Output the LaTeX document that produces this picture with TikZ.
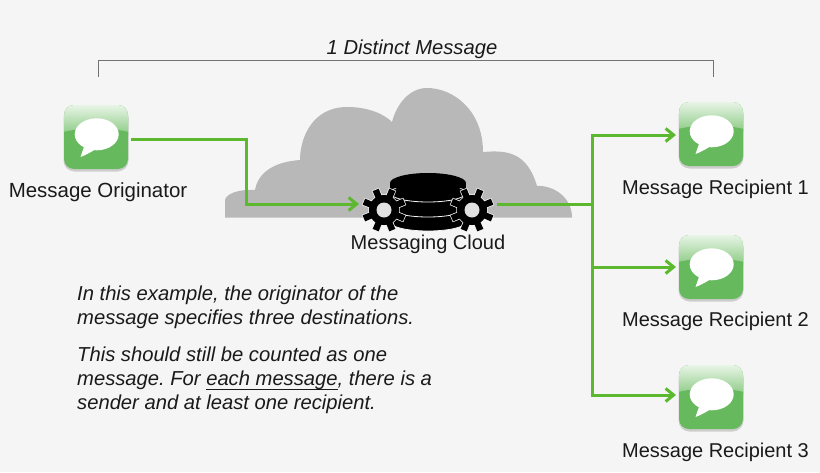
\documentclass[tikz,border=0pt]{standalone}
\usepackage{fontspec}
\setmainfont{Liberation Sans}
\usetikzlibrary{arrows.meta,calc}
\definecolor{bgc}{HTML}{F5F5F5}
\definecolor{flowc}{HTML}{5CB82E}
\definecolor{iconc}{HTML}{66B95C}
\definecolor{cloudc}{HTML}{B8B8B8}
\definecolor{textc}{HTML}{1A1A1A}
\tikzset{
  flow/.style={draw=flowc,line width=3pt,line join=miter},
  flowtip/.style={flow,-{Straight Barb[length=8pt,width=13pt,line width=3pt]}},
  iconbox/.style={draw=none,fill=iconc,rounded corners=10pt,minimum width=64pt,minimum height=64pt,inner sep=0pt,outer sep=3pt},
  lab/.style={font=\fontsize{20}{24}\selectfont,text=textc,inner sep=0pt},
  note/.style={font=\itshape\frenchspacing\fontsize{20.2}{24}\selectfont,text=textc,inner sep=0pt,align=left,anchor=north west},
  bracket/.style={draw=black!55,line width=1pt},
  hub/.style={draw=none,minimum width=138pt,minimum height=58pt,inner sep=0pt,outer sep=0pt},
  disk/.style={fill=black,draw=bgc,line width=0.8pt},
}
\newcommand{\msgicon}[2]{%
  \fill[black,opacity=0.16,rounded corners=11pt] ($(#2)+(-32.5,-30)$) rectangle ($(#2)+(32.5,34.5)$);
  \node[iconbox] (#1) at (#2) {};
  \begin{scope}[shift={(#2)}]
    \begin{scope}
      \clip[rounded corners=10pt] (-32,-32) rectangle (32,32);
      \shade[top color=white!85!iconc,bottom color=white!30!iconc]
        (-32,-32) rectangle (32,-5);
      \fill[iconc] (-33,-5) .. controls (-10,-10) and (10,-10) .. (33,-5) -- (33,-2) -- (-33,-2) -- cycle;
    \end{scope}
    \fill[white] (0.7,-2.7) ellipse [x radius=22,y radius=16];
    \fill[white] (-11,7) -- (-15.5,20) .. controls (-10,18) and (-5,15) .. (0,12) -- cycle;
  \end{scope}}
\newcommand{\gearshape}[2]{%
  \begin{scope}[shift={(#1,#2)}]
    \foreach \a in {22.5,67.5,...,337.5}{
      \filldraw[draw=bgc,line width=1.4pt] (\a-13:14.5) -- (\a-8.5:22) -- (\a+8.5:22) -- (\a+13:14.5) -- cycle;
    }
    \filldraw[draw=bgc,line width=1.4pt] (0,0) circle (15);
    \foreach \a in {22.5,67.5,...,337.5}{
      \fill[black] (\a-13:14) -- (\a-8.5:22) -- (\a+8.5:22) -- (\a+13:14) -- cycle;
    }
    \fill[black] (0,0) circle (15);
    \fill[bgc!92!black] (0,0) circle (7.5);
  \end{scope}}
\begin{document}
\begin{tikzpicture}[x=1pt,y=-1pt]
\useasboundingbox (0,0) rectangle (820,472);
\fill[bgc] (0,0) rectangle (820,472);

% cloud
\fill[cloudc] (225,217.5) -- (225,200)
  .. controls (226,194) and (238,189) .. (255,190)
  .. controls (258,173) and (273,162) .. (300,160)
  .. controls (300,137) and (313,107) .. (347,107)
  .. controls (370,107) and (385,115) .. (392,122)
  .. controls (397,103) and (410,88) .. (427,88)
  .. controls (453,88) and (483,110) .. (483,152)
  .. controls (507,150) and (527,152) .. (537,186)
  .. controls (553,185) and (572,197) .. (572,217.5) -- cycle;

% database
\node[hub] (hub) at (428,204) {};
\fill[disk] (390,208) rectangle (466,222);
\fill[disk] (428,222) ellipse [x radius=38,y radius=9];
\fill[disk] (390,192) rectangle (466,208);
\fill[disk] (428,208) ellipse [x radius=38,y radius=9];
\fill[black] (390,183) rectangle (466,193);
\fill[disk] (428,193) ellipse [x radius=38,y radius=9];
\fill[black] (428,183) ellipse [x radius=38,y radius=10];
\gearshape{384}{210}
\gearshape{472}{210}

% icons
\msgicon{orig}{96,137}
\msgicon{rone}{711,134}
\msgicon{rtwo}{711,267}
\msgicon{rthree}{711,397}

% coordinates for elbows
\coordinate (elbowa) at (246,139);
\coordinate (elbowb) at (246,204);
\coordinate (trunk) at (592,204);
\coordinate (trunktop) at (592,135);
\coordinate (trunkmid) at (592,267);
\coordinate (trunkbot) at (592,395);

% connectors
\draw[flowtip] ([yshift=-2pt]orig.east) -- (elbowa) -- (elbowb) -- (hub.west |- elbowb);
\draw[flow] (hub.east |- trunk) -- (trunk);
\draw[flowtip] (trunk) -- (trunktop) -- (rone.west |- trunktop);
\draw[flowtip] (trunk) -- (trunkbot) -- (rthree.west |- trunkbot);
\draw[flowtip] (trunkmid) -- (rtwo.west |- trunkmid);

% bracket
\coordinate (bl) at (98,77);
\coordinate (br) at (713,77);
\coordinate (tl) at (98,60);
\coordinate (tr) at (713,60);
\draw[bracket] (bl) -- (tl) -- (tr) -- (br);

% labels
\node[lab,font=\itshape\fontsize{20.2}{24}\selectfont] (title) at (412,49) {1 Distinct Message};
\node[lab,font=\fontsize{20.45}{24}\selectfont] (lorig) at (98,192) {Message Originator};
\node[lab] (lcloud) at (428,244) {Messaging Cloud};
\node[lab] (lone) at (715.5,189) {Message Recipient 1};
\node[lab] (ltwo) at (715.5,321) {Message Recipient 2};
\node[lab] (lthree) at (715.5,452) {Message Recipient 3};
\node[note] (pone) at (77,286) {In this example, the originator of the\\message specifies three destinations.};
\node[note] (ptwo) at (77,347) {This should still be counted as one\\message. For \underline{\smash{each message}\rule[-2pt]{0pt}{0pt}}, there is a\\sender and at least one recipient.};
\end{tikzpicture}
\end{document}
